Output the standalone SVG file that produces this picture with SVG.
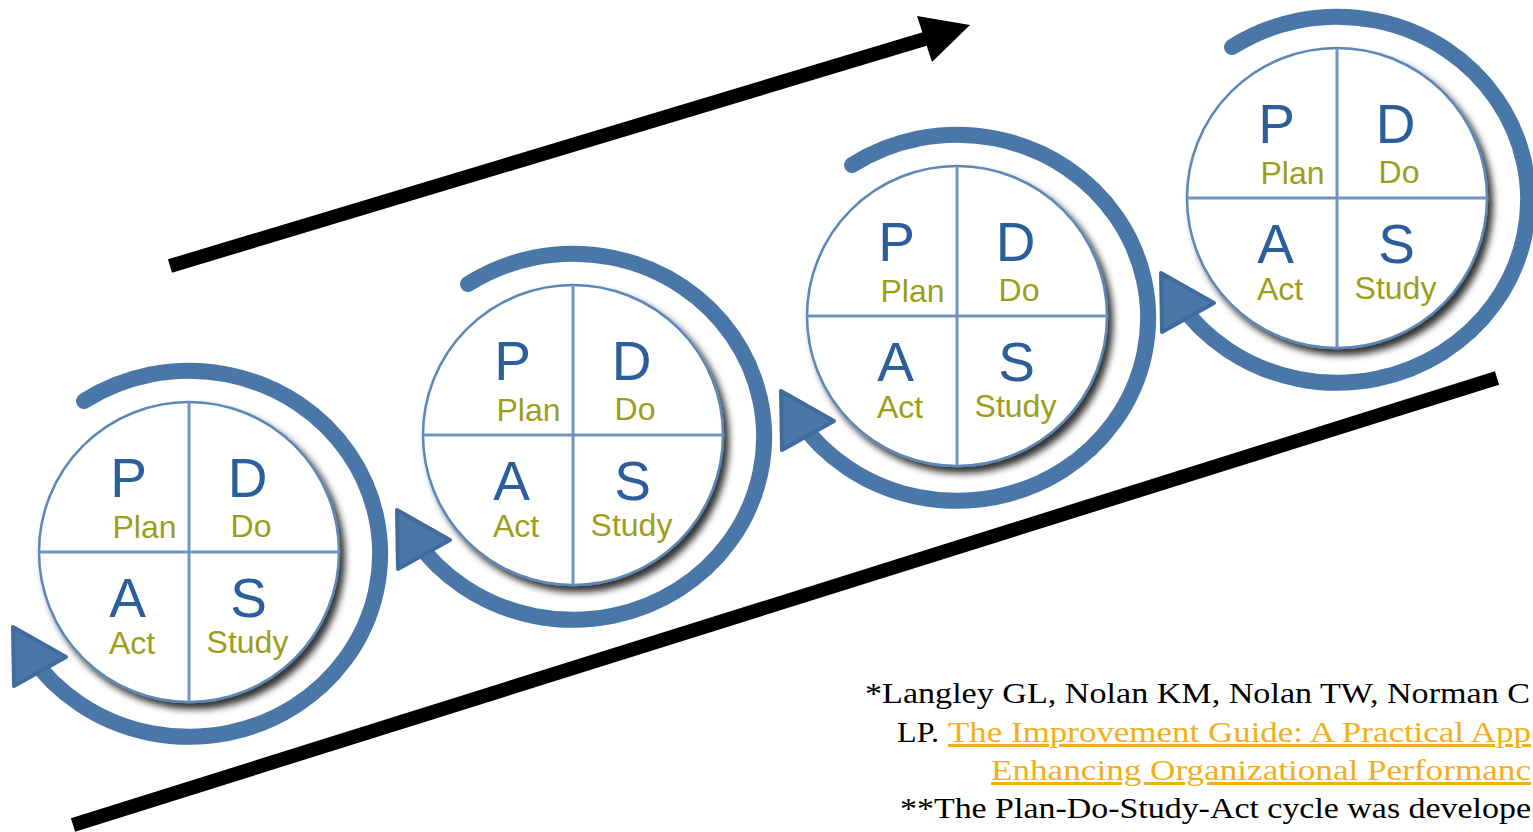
<svg xmlns="http://www.w3.org/2000/svg" width="1533" height="832" viewBox="0 0 1533 832">
  <style>
    .ring { fill: none; stroke: #4a77a7; stroke-width: 16; stroke-linecap: round; }
    .head { fill: #4a77a8; stroke: #3f6c9d; stroke-width: 4; stroke-linejoin: round; }
    .disc { fill: #ffffff; stroke: #5b87b7; stroke-width: 2.5; }
    .cross { stroke: #6e95c0; stroke-width: 3; }
    .big { font-family: "Liberation Sans", Arial, sans-serif; font-size: 55px; fill: #2c5e9b; text-anchor: middle; }
    .word { font-family: "Liberation Sans", Arial, sans-serif; font-size: 32px; fill: #9d9d1a; text-anchor: middle; }
    .ref { font-family: "Liberation Serif", "Times New Roman", serif; font-size: 30px; fill: #000000; }
    .link { fill: #f2af1c; text-decoration: underline; }
    .bar { stroke: #000000; stroke-width: 14; fill: none; }
  </style>
  <defs>
    <filter id="shadow" x="-20%" y="-20%" width="150%" height="150%">
      <feDropShadow dx="5" dy="6" stdDeviation="3.5" flood-color="#000000" flood-opacity="0.8"/>
    </filter>
    <filter id="soft" x="-10%" y="-10%" width="120%" height="120%">
      <feGaussianBlur stdDeviation="0.7"/>
    </filter>
  </defs>

  <rect width="1533" height="832" fill="#ffffff"/>

  <!-- rising trend lines -->
  <g id="connectors">
    <line class="bar" x1="170" y1="266" x2="928" y2="38"/>
    <polygon points="917,16 970,25 932,62" fill="#000000"/>
    <line class="bar" x1="73" y1="825" x2="1497" y2="378"/>
  </g>

  <!-- cycle 1 -->
  <g id="cycle-1" transform="translate(189 552)">
    <path class="ring" filter="url(#soft)" d="M -105 -151 A 191 183 0 1 1 -159.2 102.7"/>
    <polygon class="head" filter="url(#soft)" points="-176,75 -175,134 -123,105"/>
    <circle class="disc" filter="url(#shadow)" cx="0" cy="0" r="150"/>
    <line class="cross" x1="0" y1="-150" x2="0" y2="150"/>
    <line class="cross" x1="-150" y1="0" x2="150" y2="0"/>
    <text class="big" x="-60.5" y="-55">P</text>
    <text class="big" x="58.5" y="-55">D</text>
    <text class="big" x="-61.5" y="65">A</text>
    <text class="big" x="59.5" y="65">S</text>
    <text class="word" x="-44.5" y="-14">Plan</text>
    <text class="word" x="62" y="-15">Do</text>
    <text class="word" x="-57" y="102">Act</text>
    <text class="word" x="58.5" y="101">Study</text>
  </g>

  <!-- cycle 2 -->
  <g id="cycle-2" transform="translate(573 435)">
    <path class="ring" filter="url(#soft)" d="M -105 -151 A 191 183 0 1 1 -159.2 102.7"/>
    <polygon class="head" filter="url(#soft)" points="-176,75 -175,134 -123,105"/>
    <circle class="disc" filter="url(#shadow)" cx="0" cy="0" r="150"/>
    <line class="cross" x1="0" y1="-150" x2="0" y2="150"/>
    <line class="cross" x1="-150" y1="0" x2="150" y2="0"/>
    <text class="big" x="-60.5" y="-55">P</text>
    <text class="big" x="58.5" y="-55">D</text>
    <text class="big" x="-61.5" y="65">A</text>
    <text class="big" x="59.5" y="65">S</text>
    <text class="word" x="-44.5" y="-14">Plan</text>
    <text class="word" x="62" y="-15">Do</text>
    <text class="word" x="-57" y="102">Act</text>
    <text class="word" x="58.5" y="101">Study</text>
  </g>

  <!-- cycle 3 -->
  <g id="cycle-3" transform="translate(957 316)">
    <path class="ring" filter="url(#soft)" d="M -105 -151 A 191 183 0 1 1 -159.2 102.7"/>
    <polygon class="head" filter="url(#soft)" points="-176,75 -175,134 -123,105"/>
    <circle class="disc" filter="url(#shadow)" cx="0" cy="0" r="150"/>
    <line class="cross" x1="0" y1="-150" x2="0" y2="150"/>
    <line class="cross" x1="-150" y1="0" x2="150" y2="0"/>
    <text class="big" x="-60.5" y="-55">P</text>
    <text class="big" x="58.5" y="-55">D</text>
    <text class="big" x="-61.5" y="65">A</text>
    <text class="big" x="59.5" y="65">S</text>
    <text class="word" x="-44.5" y="-14">Plan</text>
    <text class="word" x="62" y="-15">Do</text>
    <text class="word" x="-57" y="102">Act</text>
    <text class="word" x="58.5" y="101">Study</text>
  </g>

  <!-- cycle 4 -->
  <g id="cycle-4" transform="translate(1337 198)">
    <path class="ring" filter="url(#soft)" d="M -105 -151 A 191 183 0 1 1 -159.2 102.7"/>
    <polygon class="head" filter="url(#soft)" points="-176,75 -175,134 -123,105"/>
    <circle class="disc" filter="url(#shadow)" cx="0" cy="0" r="150"/>
    <line class="cross" x1="0" y1="-150" x2="0" y2="150"/>
    <line class="cross" x1="-150" y1="0" x2="150" y2="0"/>
    <text class="big" x="-60.5" y="-55">P</text>
    <text class="big" x="58.5" y="-55">D</text>
    <text class="big" x="-61.5" y="65">A</text>
    <text class="big" x="59.5" y="65">S</text>
    <text class="word" x="-44.5" y="-14">Plan</text>
    <text class="word" x="62" y="-15">Do</text>
    <text class="word" x="-57" y="102">Act</text>
    <text class="word" x="58.5" y="101">Study</text>
  </g>

  <!-- reference note -->
  <g id="citation">
    <text class="ref" x="865" y="703" textLength="665" lengthAdjust="spacingAndGlyphs">*Langley GL, Nolan KM, Nolan TW, Norman C</text>
    <text class="ref" x="897" y="742" textLength="42" lengthAdjust="spacingAndGlyphs">LP.</text>
    <text class="ref link" x="948" y="742" textLength="583" lengthAdjust="spacingAndGlyphs">The Improvement Guide: A Practical App</text>
    <text class="ref link" x="991" y="780" textLength="540" lengthAdjust="spacingAndGlyphs">Enhancing Organizational Performanc</text>
    <text class="ref" x="900" y="818" textLength="631" lengthAdjust="spacingAndGlyphs">**The Plan-Do-Study-Act cycle was develope</text>
  </g>
</svg>
